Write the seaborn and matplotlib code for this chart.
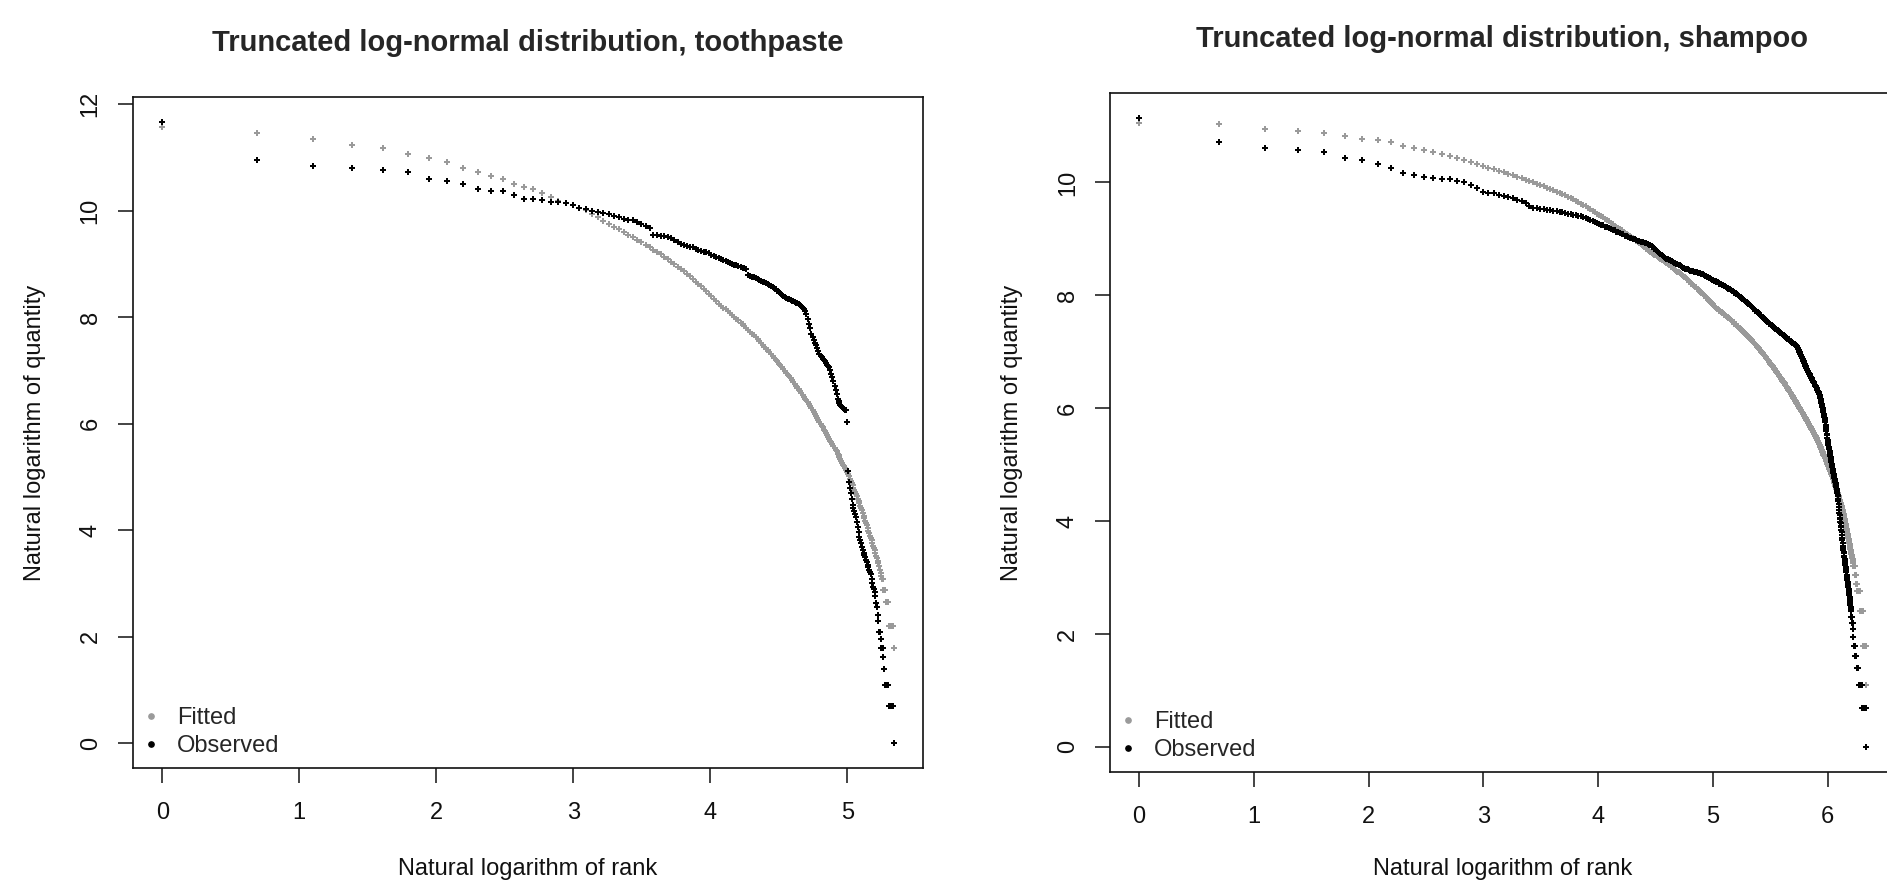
import numpy as np
import pandas as pd
import matplotlib
matplotlib.use("Agg")
import matplotlib.pyplot as plt
from matplotlib.lines import Line2D
import seaborn as sns


# natural log of quantity, one value per rank (rank 1, 2, 3, ...)
toothpaste_fitted = [
    11.57, 11.46, 11.35, 11.24, 11.17, 11.06, 10.99, 10.92, 10.81, 10.73,
    10.66, 10.59, 10.51, 10.45, 10.41, 10.34, 10.26, 10.19, 10.15, 10.11,
    10.06, 10.01, 9.94, 9.88, 9.81,
    9.75, 9.70, 9.65, 9.60, 9.55, 9.50, 9.46, 9.41, 9.36, 9.31,
    9.27, 9.22, 9.18, 9.13, 9.09, 9.04, 9.00, 8.95, 8.91, 8.86,
    8.81, 8.77, 8.72, 8.67, 8.63, 8.58, 8.53, 8.49, 8.44, 8.39, 8.34, 8.30, 8.25,
    8.22, 8.18, 8.15, 8.11, 8.08, 8.04, 8.01, 7.97, 7.94, 7.90, 7.87, 7.83, 7.80, 7.76, 7.73, 7.69,
    7.66, 7.62, 7.59, 7.55, 7.52, 7.48, 7.45, 7.41, 7.38, 7.34, 7.31, 7.27, 7.24, 7.20, 7.17, 7.13, 7.10, 7.06,
    7.03, 6.99, 6.96, 6.92, 6.89, 6.85, 6.82, 6.78, 6.75, 6.71, 6.68, 6.65, 6.61, 6.58, 6.54, 6.51, 6.47, 6.44,
    6.40, 6.37, 6.33, 6.29, 6.26, 6.22, 6.18, 6.15, 6.11, 6.07, 6.04, 6.00, 5.96, 5.93, 5.89, 5.86, 5.82,
    5.79, 5.75, 5.72, 5.68, 5.65, 5.61, 5.58, 5.54, 5.51, 5.48,
    5.44, 5.41, 5.37, 5.34, 5.30, 5.27, 5.23, 5.20, 5.16, 5.13,
    5.09, 5.05, 5.01, 4.97, 4.93, 4.89, 4.84, 4.80, 4.76, 4.72, 4.68, 4.64, 4.59, 4.55, 4.51,
    4.46, 4.42, 4.37, 4.32, 4.27, 4.23, 4.18, 4.13, 4.09, 4.04, 3.99, 3.95, 3.90, 3.85, 3.81, 3.76,
    3.71, 3.66, 3.62, 3.57, 3.52, 3.47, 3.42, 3.38, 3.33,
    3.26, 3.20, 3.14, 3.08, 3.08, 2.88, 2.88, 2.88,
    2.65, 2.65, 2.65, 2.65, 2.65,
    2.20, 2.20, 2.20, 2.20, 2.20, 2.20, 2.20,
    1.79,
]

toothpaste_observed = [
    11.67, 10.95, 10.84, 10.80, 10.77, 10.73, 10.59, 10.55, 10.51, 10.41,
    10.37, 10.37, 10.30, 10.23, 10.23, 10.20, 10.16, 10.16, 10.14, 10.10,
    10.05, 10.03, 10.00, 9.97, 9.96, 9.93, 9.91, 9.88, 9.84, 9.83,
    9.82, 9.79, 9.76, 9.72, 9.67, 9.55, 9.54, 9.53, 9.53, 9.50,
    9.48, 9.45, 9.41, 9.38, 9.36, 9.34, 9.32, 9.31, 9.29, 9.27,
    9.25, 9.23, 9.22, 9.20, 9.17, 9.15, 9.13, 9.11, 9.09, 9.07,
    9.05, 9.03, 9.02, 9.00, 8.99, 8.98, 8.96, 8.95, 8.93, 8.92,
    8.91, 8.80, 8.78, 8.76, 8.75, 8.73, 8.72, 8.70, 8.69, 8.67,
    8.66, 8.65, 8.63, 8.61, 8.59, 8.57, 8.55, 8.53, 8.50, 8.47,
    8.45, 8.42, 8.40, 8.38, 8.37, 8.35, 8.34, 8.33, 8.31, 8.30,
    8.29, 8.27, 8.26, 8.25, 8.23, 8.21, 8.18, 8.15, 8.11, 8.06,
    7.97, 7.88, 7.80, 7.69, 7.63, 7.58, 7.52, 7.47, 7.42, 7.36,
    7.31, 7.28, 7.25, 7.22, 7.19, 7.17, 7.14, 7.11, 7.08, 7.06,
    7.00, 6.94, 6.88, 6.80, 6.71, 6.63, 6.55, 6.47, 6.42, 6.38,
    6.35, 6.33, 6.31, 6.29, 6.28, 6.26, 6.25, 6.03, 5.12, 4.91,
    4.80, 4.70, 4.58, 4.47, 4.41, 4.36, 4.30, 4.25, 4.16, 4.06,
    3.97, 3.88, 3.82, 3.76, 3.69, 3.63, 3.58, 3.53, 3.49, 3.44,
    3.40, 3.35, 3.30, 3.26, 3.22, 3.18, 3.09, 3.00, 2.94, 2.89,
    2.83, 2.77, 2.64, 2.56, 2.40, 2.30, 2.08, 2.08, 1.95, 1.79,
    1.79, 1.79, 1.61, 1.39, 1.10, 1.10, 1.10, 1.10, 1.10, 1.10,
    0.69, 0.69, 0.69, 0.69, 0.69, 0.69, 0.69, 0.00,
]

shampoo_fitted = [
    11.06, 11.03, 10.95, 10.92, 10.88, 10.82, 10.77, 10.75, 10.72, 10.64,
    10.61, 10.58, 10.54, 10.51, 10.47, 10.44, 10.40, 10.37, 10.33, 10.29,
    10.26, 10.24, 10.21, 10.18, 10.15, 10.13, 10.10,
    10.08, 10.05, 10.03, 10.01, 9.98, 9.96, 9.94, 9.91, 9.89,
    9.87, 9.84, 9.82, 9.79, 9.77, 9.75, 9.72, 9.70, 9.67, 9.65, 9.62, 9.60,
    9.58, 9.55, 9.53, 9.50, 9.48, 9.45, 9.43, 9.40, 9.38, 9.36, 9.33, 9.31, 9.28, 9.26, 9.23, 9.21,
    9.19, 9.17, 9.15, 9.13, 9.11, 9.09, 9.07, 9.05, 9.03, 9.01, 8.99,
    8.97, 8.95, 8.93, 8.91, 8.89, 8.87, 8.85, 8.83, 8.81, 8.79, 8.77,
    8.75, 8.74, 8.72, 8.71, 8.69, 8.68, 8.66, 8.65, 8.63, 8.62,
    8.60, 8.59, 8.57, 8.56, 8.54, 8.53, 8.51, 8.50, 8.48, 8.47,
    8.45, 8.44, 8.42, 8.41, 8.39, 8.38, 8.36, 8.35, 8.33,
    8.32, 8.30, 8.29, 8.27, 8.26, 8.24, 8.23, 8.21, 8.20, 8.18,
    8.17, 8.15, 8.14, 8.12, 8.11, 8.09, 8.08, 8.06, 8.05, 8.04,
    8.02, 8.01, 7.99, 7.98, 7.96, 7.95, 7.93, 7.92, 7.90, 7.89,
    7.87, 7.86, 7.84, 7.83, 7.81, 7.80, 7.78, 7.77,
    7.76, 7.75, 7.74, 7.73, 7.72, 7.71, 7.70, 7.69, 7.68, 7.67,
    7.66, 7.65, 7.64, 7.63, 7.62, 7.61, 7.60, 7.59, 7.58, 7.57,
    7.56, 7.55, 7.54, 7.53, 7.52, 7.50, 7.49, 7.48, 7.47, 7.46,
    7.45, 7.44, 7.43, 7.42, 7.41, 7.40, 7.39, 7.38, 7.37, 7.36,
    7.35, 7.34, 7.33, 7.32, 7.31, 7.30, 7.29, 7.28, 7.27, 7.26,
    7.25, 7.24,
    7.23, 7.22, 7.21, 7.20, 7.18, 7.17, 7.16, 7.15, 7.14, 7.13,
    7.12, 7.11, 7.09, 7.08, 7.07, 7.06, 7.05, 7.04, 7.03, 7.02,
    7.00, 6.99, 6.98, 6.97, 6.96, 6.95, 6.94, 6.93, 6.92, 6.90,
    6.89, 6.88, 6.87, 6.86, 6.85, 6.84, 6.83, 6.82, 6.80, 6.79,
    6.78, 6.77, 6.76, 6.75, 6.74, 6.73, 6.71, 6.70, 6.69, 6.68,
    6.67, 6.66, 6.65, 6.64, 6.62, 6.61, 6.60, 6.59, 6.58, 6.57,
    6.56, 6.55, 6.54, 6.52, 6.51, 6.50, 6.49, 6.48,
    6.47, 6.46, 6.45, 6.44, 6.42, 6.41, 6.40, 6.39, 6.38, 6.37,
    6.36, 6.35, 6.33, 6.32, 6.31, 6.30, 6.29, 6.28, 6.27, 6.26,
    6.25, 6.23, 6.22, 6.21, 6.20, 6.19, 6.18, 6.17, 6.16, 6.15,
    6.13, 6.12, 6.11, 6.10, 6.09, 6.08, 6.07, 6.06, 6.04, 6.03,
    6.02, 6.01, 6.00,
    5.99, 5.98, 5.97, 5.96, 5.95, 5.94, 5.93, 5.92, 5.90, 5.89,
    5.88, 5.87, 5.86, 5.85, 5.84, 5.83, 5.82, 5.81, 5.80, 5.79,
    5.78, 5.77, 5.76, 5.75, 5.74, 5.72, 5.71, 5.70, 5.69, 5.68,
    5.67, 5.66, 5.65, 5.64, 5.63, 5.62, 5.61, 5.60, 5.59, 5.58,
    5.57, 5.55, 5.54, 5.53, 5.52, 5.51, 5.50, 5.49, 5.48, 5.47,
    5.46, 5.45, 5.43, 5.42, 5.41, 5.40, 5.38, 5.37, 5.36, 5.35,
    5.33, 5.32, 5.31, 5.30, 5.28, 5.27, 5.26, 5.25, 5.23, 5.22,
    5.21, 5.20, 5.18, 5.17, 5.16, 5.15, 5.13, 5.12, 5.11, 5.10,
    5.08, 5.07, 5.06, 5.05, 5.03, 5.02, 5.01, 5.00, 4.98, 4.97,
    4.96, 4.95, 4.93, 4.92, 4.91, 4.90, 4.88, 4.87, 4.86, 4.85,
    4.83, 4.82, 4.81, 4.80, 4.78, 4.77,
    4.75, 4.74, 4.72, 4.71, 4.69, 4.68, 4.66, 4.65, 4.63, 4.62,
    4.60, 4.59, 4.57, 4.56, 4.54, 4.53, 4.51, 4.50, 4.48, 4.47,
    4.45, 4.44, 4.42, 4.41, 4.39, 4.38, 4.36, 4.35, 4.33, 4.32,
    4.30, 4.29, 4.27, 4.26, 4.24, 4.23, 4.21, 4.20, 4.18,
    4.16, 4.14, 4.12, 4.09, 4.07, 4.05, 4.03, 4.01, 3.99, 3.96,
    3.94, 3.92, 3.90, 3.88, 3.86, 3.83, 3.81, 3.79, 3.77, 3.75,
    3.73, 3.70, 3.68, 3.66, 3.64, 3.62, 3.60, 3.58, 3.55, 3.53,
    3.51, 3.49, 3.47, 3.45, 3.42, 3.40, 3.38, 3.36, 3.34, 3.32,
    3.29, 3.27, 3.25,
    3.21, 3.21, 3.21, 3.21, 3.21, 3.21, 3.21, 3.21, 3.21,
    3.04, 3.04, 3.04,
    2.89, 2.89, 2.89, 2.89, 2.89, 2.89,
    2.77, 2.77, 2.77, 2.77, 2.77, 2.77, 2.77, 2.77, 2.77, 2.77, 2.77,
    2.40, 2.40, 2.40, 2.40, 2.40, 2.40, 2.40, 2.40, 2.40, 2.40,
    2.40, 2.40, 2.40, 2.40, 2.40, 2.40, 2.40,
    1.79, 1.79, 1.79, 1.79, 1.79, 1.79, 1.79, 1.79, 1.79, 1.79, 1.79, 1.79,
    1.10,
]

shampoo_observed = [
    11.14, 10.72, 10.61, 10.57, 10.54, 10.43, 10.40, 10.33, 10.26, 10.16,
    10.13, 10.10, 10.08, 10.06, 10.06, 10.02, 10.00, 9.95, 9.91, 9.84,
    9.81, 9.81, 9.78,
    9.76, 9.74, 9.72, 9.69, 9.67, 9.63, 9.58, 9.55,
    9.54, 9.53, 9.53, 9.52, 9.51,
    9.50, 9.49, 9.48, 9.47, 9.46, 9.45,
    9.44, 9.43, 9.42, 9.41, 9.40, 9.39,
    9.37, 9.36, 9.34, 9.32, 9.30, 9.29, 9.27,
    9.25, 9.24, 9.22, 9.21, 9.19, 9.18, 9.16, 9.15, 9.13,
    9.12, 9.10, 9.09, 9.08, 9.06, 9.05, 9.04, 9.02, 9.01, 9.00,
    8.99, 8.98, 8.97, 8.96, 8.95, 8.94, 8.94, 8.93, 8.92, 8.91, 8.90, 8.89,
    8.87, 8.85, 8.83, 8.81, 8.79, 8.77, 8.75, 8.73, 8.71, 8.70, 8.68, 8.67, 8.65,
    8.64, 8.63, 8.62, 8.61, 8.60, 8.59, 8.58, 8.57, 8.56, 8.55, 8.54, 8.53, 8.52, 8.51, 8.49, 8.48,
    8.47, 8.47, 8.46, 8.46, 8.45, 8.45, 8.44, 8.44, 8.43, 8.43,
    8.42, 8.42, 8.41, 8.41, 8.40, 8.40, 8.39, 8.39,
    8.38, 8.37, 8.37, 8.36, 8.35, 8.34, 8.34, 8.33, 8.32, 8.31,
    8.30, 8.30, 8.29, 8.28, 8.27, 8.27, 8.26, 8.25, 8.25, 8.24,
    8.23, 8.23, 8.22, 8.21, 8.21, 8.20, 8.19, 8.18, 8.18, 8.17,
    8.16, 8.16, 8.15, 8.14, 8.13, 8.13, 8.12, 8.11, 8.11, 8.10,
    8.09, 8.08, 8.08, 8.07,
    8.06, 8.05, 8.04, 8.04, 8.03, 8.02, 8.01, 8.00, 7.99, 7.98,
    7.97, 7.97, 7.96, 7.95, 7.94, 7.93, 7.92, 7.91, 7.90, 7.90,
    7.89, 7.88, 7.87, 7.86, 7.85, 7.84, 7.84, 7.83,
    7.82, 7.81, 7.80, 7.79, 7.78, 7.77, 7.76, 7.75, 7.74, 7.73,
    7.72, 7.71, 7.71, 7.70, 7.69, 7.68, 7.67, 7.66, 7.65, 7.64,
    7.63, 7.62, 7.62, 7.61, 7.60, 7.59, 7.58, 7.57, 7.56, 7.55,
    7.55, 7.54,
    7.53, 7.53, 7.52, 7.51, 7.51, 7.50, 7.49, 7.49, 7.48, 7.47,
    7.47, 7.46, 7.45, 7.45, 7.44, 7.43, 7.43, 7.42, 7.41, 7.41,
    7.40, 7.39, 7.39, 7.38, 7.37, 7.37, 7.36, 7.35, 7.35, 7.34,
    7.33, 7.33, 7.32, 7.31, 7.31, 7.30,
    7.29, 7.29, 7.28, 7.28, 7.27, 7.26, 7.26, 7.25, 7.25, 7.24,
    7.23, 7.23, 7.22, 7.22, 7.21, 7.21, 7.20, 7.19, 7.19, 7.18,
    7.18, 7.17, 7.16, 7.16, 7.15, 7.15, 7.14, 7.14, 7.13, 7.13,
    7.13, 7.12, 7.12, 7.12,
    7.11, 7.09, 7.08, 7.06, 7.05, 7.03, 7.02, 7.00, 6.99, 6.97,
    6.96, 6.94, 6.93, 6.92, 6.90, 6.89, 6.87, 6.86, 6.84, 6.83,
    6.81, 6.80, 6.78, 6.77, 6.75, 6.74, 6.72, 6.71,
    6.70, 6.69, 6.67, 6.66, 6.65, 6.64, 6.63, 6.62, 6.61, 6.60,
    6.58, 6.57, 6.56, 6.55, 6.54, 6.53, 6.52, 6.50, 6.49, 6.48,
    6.47, 6.46, 6.45, 6.44, 6.42, 6.41, 6.40, 6.39, 6.38, 6.37,
    6.36, 6.35, 6.33, 6.32, 6.31, 6.30, 6.29, 6.28, 6.27, 6.25, 6.24,
    6.22, 6.19, 6.17, 6.14, 6.12, 6.10, 6.07, 6.05, 6.02, 6.00,
    5.97, 5.95, 5.93, 5.90, 5.88, 5.85, 5.83,
    5.79, 5.75, 5.71, 5.67, 5.63, 5.59, 5.55, 5.52, 5.48, 5.44, 5.40,
    5.37, 5.35, 5.32, 5.30, 5.27, 5.25,
    5.22, 5.19, 5.16, 5.13, 5.10, 5.08, 5.05, 5.02, 4.99, 4.96, 4.93, 4.90,
    4.88, 4.85, 4.83, 4.81, 4.78, 4.76, 4.74, 4.72, 4.69, 4.67, 4.65, 4.62, 4.60,
    4.57, 4.55, 4.52, 4.50, 4.47, 4.45,
    4.40, 4.35, 4.30, 4.25, 4.20, 4.15, 4.10,
    4.06, 4.03, 3.99, 3.96, 3.92, 3.89, 3.85,
    3.80, 3.75, 3.70, 3.66, 3.61, 3.56,
    3.53, 3.49, 3.46, 3.43, 3.39, 3.36, 3.32, 3.29, 3.26, 3.22, 3.19, 3.15, 3.12,
    3.09, 3.05, 3.02, 2.99, 2.96, 2.92, 2.89, 2.86, 2.83, 2.79, 2.76,
    2.73, 2.69, 2.66, 2.62, 2.59, 2.55, 2.52, 2.48, 2.45, 2.41,
    2.30, 2.30, 2.30, 2.30, 2.20, 2.20, 2.08,
    1.95, 1.95, 1.95,
    1.79, 1.79, 1.79, 1.79, 1.79, 1.79, 1.79, 1.79,
    1.61, 1.61, 1.61, 1.61, 1.61,
    1.39, 1.39, 1.39, 1.39, 1.39, 1.39, 1.39, 1.39, 1.39,
    1.10, 1.10, 1.10, 1.10, 1.10, 1.10, 1.10, 1.10, 1.10,
    1.10, 1.10, 1.10, 1.10, 1.10, 1.10, 1.10, 1.10, 1.10,
    0.69, 0.69, 0.69, 0.69, 0.69, 0.69, 0.69, 0.69, 0.69,
    0.69, 0.69, 0.69, 0.69, 0.69, 0.69, 0.69, 0.69,
    0.00,
]

panel_titles = ["Truncated log-normal distribution, toothpaste",
                "Truncated log-normal distribution, shampoo"]
x_label = "Natural logarithm of rank"
y_label = "Natural logarithm of quantity"
legend_labels = ["Fitted", "Observed"]
x_ticks = [[0, 1, 2, 3, 4, 5], [0, 1, 2, 3, 4, 5, 6]]
y_ticks = [[0, 2, 4, 6, 8, 10, 12], [0, 2, 4, 6, 8, 10]]

GREY = "#9a9a9a"
BLACK = "#000000"
W, H = 1887, 880
# plot boxes in pixels: left, top, right, bottom (the right one runs past the edge)
boxes = [(133, 97, 923, 768), (1110, 93, 1895, 772)]


def rank_frame(values):
    y = np.asarray(values, dtype=float)
    return pd.DataFrame({"x": np.log(np.arange(1, len(y) + 1)), "y": y})


def r_range(lo, hi):
    pad = (hi - lo) * 0.04
    return lo - pad, hi + pad


sns.set_style("ticks")
plt.rcParams["font.family"] = ["Liberation Sans", "DejaVu Sans"]

fig = plt.figure(figsize=(W / 100, H / 100), dpi=100)
panels = [(toothpaste_fitted, toothpaste_observed), (shampoo_fitted, shampoo_observed)]

for i, (fitted, observed) in enumerate(panels):
    l, t, r, b = boxes[i]
    ax = fig.add_axes([l / W, 1 - b / H, (r - l) / W, (b - t) / H])
    fit_df = rank_frame(fitted)
    obs_df = rank_frame(observed)

    sns.scatterplot(data=fit_df, x="x", y="y", ax=ax, color=GREY, marker="P",
                    s=20, linewidth=0, legend=False)
    sns.scatterplot(data=obs_df, x="x", y="y", ax=ax, color=BLACK, marker="P",
                    s=22, linewidth=0, legend=False)

    both = pd.concat([fit_df, obs_df])
    ax.set_xlim(*r_range(both["x"].min(), both["x"].max()))
    ax.set_ylim(*r_range(both["y"].min(), both["y"].max()))
    ax.set_xticks(x_ticks[i])
    ax.set_yticks(y_ticks[i])

    for sp in ax.spines.values():
        sp.set_visible(True)
        sp.set_linewidth(1.2)
        sp.set_color("#111111")
    ax.tick_params(direction="out", length=10.5, width=1.1, color="#111111",
                   labelsize=17, labelcolor="#111111")
    ax.tick_params(axis="x", pad=14)
    ax.tick_params(axis="y", pad=12, labelrotation=90)
    for lbl in ax.get_yticklabels():
        lbl.set_va("center")

    ax.set_title(panel_titles[i], fontsize=21, fontweight="bold", pad=33)
    ax.set_xlabel(x_label, fontsize=17, color="#111111")
    ax.set_ylabel(y_label, fontsize=17, color="#111111")
    ax.xaxis.set_label_coords(0.5, (b - 858) / (b - t))
    ax.yaxis.set_label_coords(-87 / (r - l), 0.5)

    handles = [Line2D([], [], ls="", marker="o", ms=3.8, color=GREY),
               Line2D([], [], ls="", marker="o", ms=3.8, color=BLACK)]
    ax.legend(handles, legend_labels, loc="lower left", frameon=False, fontsize=17,
              handlelength=0.6, handletextpad=0.8, borderpad=0.45,
              labelspacing=0.25, borderaxespad=0)

fig.savefig("out.png", dpi=100)
